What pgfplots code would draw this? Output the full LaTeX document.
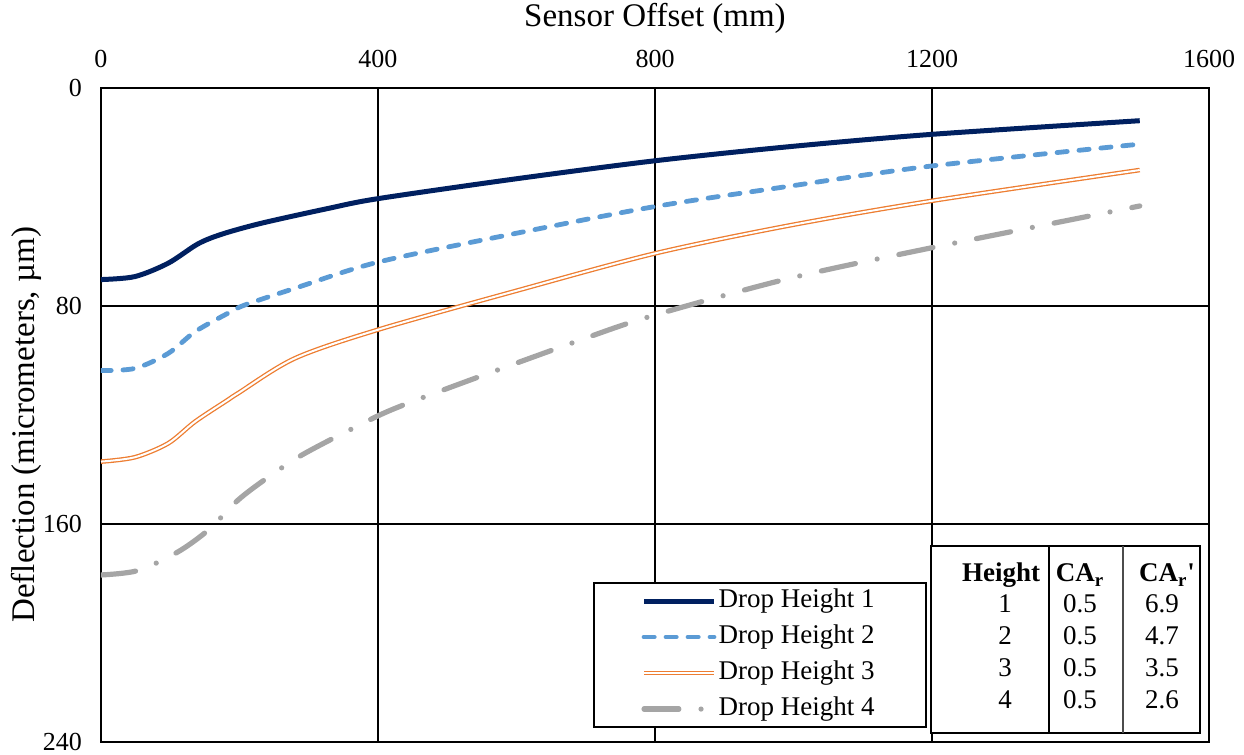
\documentclass[border=0pt]{standalone}
\usepackage{fontspec}
\setmainfont{Liberation Serif}
\usepackage{pgfplots}
\pgfplotsset{compat=1.18}
\definecolor{c1}{HTML}{002060}
\definecolor{c2}{HTML}{5B9BD5}
\definecolor{c3}{HTML}{ED7D31}
\definecolor{c4}{HTML}{A5A5A5}
\begin{document}
\begin{tikzpicture}
\path[use as bounding box] (-50.5pt,-6.5pt) rectangle (571.5pt,371pt);
\begin{axis}[
  at={(0,0)}, anchor=south west,
  scale only axis, width=554pt, height=327pt,
  xmin=0, xmax=1600, ymin=0, ymax=240,
  y dir=reverse,
  xtick={0,400,800,1200,1600}, ytick={0,80,160,240},
  xticklabel pos=upper,
  major tick length=0pt,
  grid=major,
  grid style={black, line width=0.8pt},
  axis line style={black, line width=1pt},
  /pgf/number format/assume math mode=true,
  /pgf/number format/1000 sep={},
  ticklabel style={font=\fontsize{13}{15}\selectfont},
  xticklabel style={yshift=6.5pt},
  yticklabel style={xshift=-6pt},
  xlabel={Sensor Offset (mm)},
  ylabel={Deflection (micrometers, µm)},
  label style={font=\fontsize{16.5}{19}\selectfont},
  xlabel style={at={(axis description cs:0.5,1)}, anchor=center, yshift=35pt},
  ylabel style={at={(axis description cs:-0.0677,0.485)}, anchor=center},
  legend image code/.code={\draw[#1] (0pt,0pt) -- (35pt,0pt);},
  legend cell align=left,
  legend style={at={(axis description cs:0.4874,0.2375)}, anchor=north west,
    draw=none, fill=none, inner sep=0pt, row sep=4pt,
    nodes={inner sep=1pt, text height=9pt, text depth=3pt},
    font=\fontsize{13.5}{16}\selectfont},
]
\addplot[c1, line width=2.5pt, smooth] coordinates {
(0,70.3) (49,69.2) (97,64.3) (140,57.2) (175,53.6) (232,49.6) (328,44.2) (400,40.6) (600,33.3) (800,26.7) (995,21.5) (1200,17) (1500,12)};
\addlegendentry{Drop Height 1}
\addplot[c2, line width=2.4pt, smooth, line cap=round, dash pattern=on 5.1pt off 5.9pt] coordinates {
(0,103.7) (49,102.9) (97,97.4) (136,89.4) (183,82.7) (208,79.6) (280,73.5) (400,63.9) (600,53.3) (800,43.5) (995,36) (1200,28.6) (1500,20.6)};
\addlegendentry{Drop Height 2}
\addplot[c3, line width=0.65pt, double=white, double distance=1pt, smooth] coordinates {
(0,137.1) (49,135.5) (97,130.4) (136,122.4) (183,114.5) (198,112) (280,99.2) (400,88.7) (600,74.4) (800,60.7) (995,50.4) (1200,41.4) (1500,30.1)};
\addlegendentry{Drop Height 3}
\addplot[c4, line width=2.6pt, smooth, line cap=round, dash pattern=on 17.4pt off 11.1pt on 0pt off 11.1pt] coordinates {
(0,178.7) (53,177.1) (110,170.4) (155,162.2) (198,151.2) (241,142.9) (290,134.7) (367,124.5) (443,115.7) (692,92.5) (800,83.3) (995,69.8) (1200,58.6) (1500,43.3)};
\addlegendentry{Drop Height 4}
\draw[fill=white, line width=1pt] (axis description cs:0.4449,0.0229) rectangle (axis description cs:0.7446,0.2431);
\end{axis}
% table
\draw[fill=white, line width=1.1pt] (415pt,4.5pt) rectangle (549.5pt,98pt);
\draw[line width=0.7pt] (474pt,4.5pt) -- (474pt,98pt);
\draw[line width=0.7pt, black!70] (511pt,4.5pt) -- (511pt,98pt);
\begin{scope}[every node/.style={font=\fontsize{13.5}{16}\selectfont, text height=9pt, text depth=0pt, inner sep=0pt}]
\node at (450pt,84.5pt) {\textbf{Height}};
\node at (489.5pt,84.5pt) {\textbf{CA\textsubscript{r}}};
\node at (533pt,84.5pt) {\textbf{CA\textsubscript{r}\textquotesingle}};
\node at (452pt,69pt) {1}; \node at (489.5pt,69pt) {0.5}; \node at (530.5pt,69pt) {6.9};
\node at (452pt,53pt) {2}; \node at (489.5pt,53pt) {0.5}; \node at (530.5pt,53pt) {4.7};
\node at (452pt,37pt) {3}; \node at (489.5pt,37pt) {0.5}; \node at (530.5pt,37pt) {3.5};
\node at (452pt,21pt) {4}; \node at (489.5pt,21pt) {0.5}; \node at (530.5pt,21pt) {2.6};
\end{scope}
\end{tikzpicture}
\end{document}
